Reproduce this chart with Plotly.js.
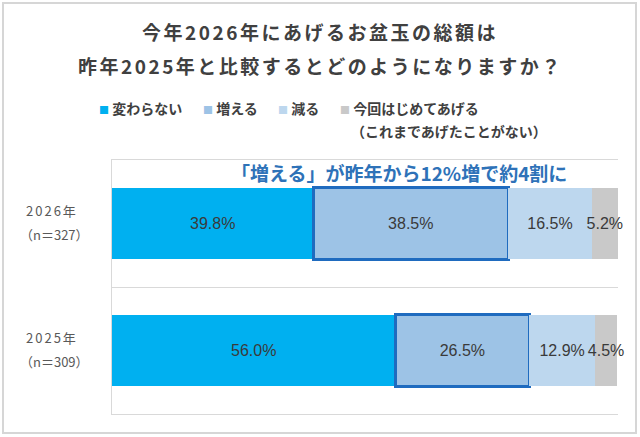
<!DOCTYPE html>
<html>
<head>
<meta charset="utf-8">
<script src="https://cdn.plot.ly/plotly-3.0.1.min.js"></script>
<style>
  body { margin: 0; background: #fff; }
  #chart { width: 640px; height: 437px; }
</style>
</head>
<body>
<div id="chart"></div>
<script>
// data
var groups = ["2026年", "2025年"];
var sampleSizes = [327, 309];
var seriesNames = ["変わらない", "増える", "減る", "今回はじめてあげる"];
var seriesNote = "（これまであげたことがない）";
var unchanged = [39.8, 56.0];
var increase = [38.5, 26.5];
var decrease = [16.5, 12.9];
var firstTime = [5.2, 4.5];
var callout = "「増える」が昨年から12%増で約4割に";
var titleLines = ["今年2026年にあげるお盆玉の総額は", "昨年2025年と比較するとどのようになりますか？"];

var colors = ["#00B0F0", "#9DC3E6", "#BDD7EE", "#C9C9C9"];
var seriesValues = [unchanged, increase, decrease, firstTime];
var jp = '"Noto Sans CJK JP", "Noto Sans", sans-serif';
var textGray = "#404040";
var lineGray = "#D9D9D9";

var traces = [];
for (let i = 0; i < seriesValues.length; i++) {
    traces.push({
        type: "bar",
        orientation: "h",
        name: seriesNames[i],
        x: seriesValues[i],
        y: groups,
        marker: {
            color: colors[i],
            // the "増える" segment gets the dark blue frame
            line: i == 1 ? { color: "#1F6BBF", width: 3 } : { width: 0 },
        },
        texttemplate: "%{x:.1f}%",
        textposition: "inside",
        insidetextanchor: "middle",
        textangle: 0,
        constraintext: "none",
        cliponaxis: false,
        insidetextfont: { family: '"Liberation Sans", Arial, sans-serif', size: 16, color: "#3A3A3A" },
        hoverinfo: "skip",
        showlegend: false,
    });
}

// plot area is 112..618 px wide, 160..414 px tall
function px(x) { return (x - 112) / 506; }
function py(y) { return (414 - y) / 254; }

var annotations = [];

annotations.push({
    xref: "paper", yref: "paper", x: px(320), y: py(65),
    xanchor: "center", yanchor: "middle", showarrow: false,
    text: '<span style="letter-spacing:2.5px">' + titleLines[1] + "</span>",
    font: { family: jp, size: 19, color: textGray, weight: "bold" },
});

// legend row
var legendStarts = [97, 201, 276, 338];
for (let i = 0; i < seriesNames.length; i++) {
    annotations.push({
        xref: "paper", yref: "paper", x: px(legendStarts[i]), y: py(108),
        xanchor: "left", yanchor: "middle", showarrow: false,
        text: '<span style="font-size:10px;fill:' + colors[i] + '">■</span> ' + seriesNames[i],
        font: { family: jp, size: 14, color: textGray, weight: "bold" },
    });
}
annotations.push({
    xref: "paper", yref: "paper", x: px(349), y: py(131),
    xanchor: "left", yanchor: "middle", showarrow: false,
    text: seriesNote,
    font: { family: jp, size: 14, color: textGray, weight: "bold" },
});

// category labels, two lines each
for (let i = 0; i < groups.length; i++) {
    annotations.push({
        xref: "paper", yref: "y", x: px(52), y: groups[i], yshift: 13,
        xanchor: "center", yanchor: "middle", showarrow: false,
        text: '<span style="letter-spacing:2px">' + groups[i] + "</span>",
        font: { family: jp, size: 13, color: "#595959" },
    });
    annotations.push({
        xref: "paper", yref: "y", x: px(54), y: groups[i], yshift: -11,
        xanchor: "center", yanchor: "middle", showarrow: false,
        text: "（n＝" + sampleSizes[i] + "）",
        font: { family: jp, size: 13, color: "#595959" },
    });
}

annotations.push({
    xref: "paper", yref: "paper", x: px(399), y: py(172),
    xanchor: "center", yanchor: "middle", showarrow: false,
    text: callout,
    font: { family: jp, size: 19, color: "#2E72B8", weight: "bold" },
});

var layout = {
    width: 640,
    height: 437,
    margin: { l: 112, r: 22, t: 160, b: 23 },
    paper_bgcolor: "#fff",
    plot_bgcolor: "#fff",
    barmode: "stack",
    bargap: 0.44,
    title: {
        text: '<span style="letter-spacing:2.5px">' + titleLines[0] + "</span>",
        xref: "paper", x: px(320), xanchor: "center",
        yref: "container", y: 1 - 33 / 437, yanchor: "middle",
        font: { family: jp, size: 19, color: textGray, weight: "bold" },
    },
    xaxis: {
        range: [0, 100],
        showgrid: false,
        zeroline: false,
        showticklabels: false,
        ticks: "",
        showline: true,
        mirror: true,
        linecolor: lineGray,
        linewidth: 1,
        fixedrange: true,
    },
    yaxis: {
        type: "category",
        categoryorder: "array",
        categoryarray: groups,
        range: [1.5, -0.5],
        tickson: "boundaries",
        showgrid: true,
        gridcolor: lineGray,
        showline: true,
        linecolor: lineGray,
        ticks: "",
        showticklabels: false,
        fixedrange: true,
    },
    shapes: [{
        type: "rect", xref: "paper", yref: "paper",
        x0: px(3), x1: px(636), y0: py(433), y1: py(3),
        line: { color: "#D6D6D6", width: 2 },
        layer: "below",
    }],
    annotations: annotations,
    showlegend: false,
};

Plotly.newPlot("chart", traces, layout, { staticPlot: true, displayModeBar: false });
</script>
</body>
</html>
